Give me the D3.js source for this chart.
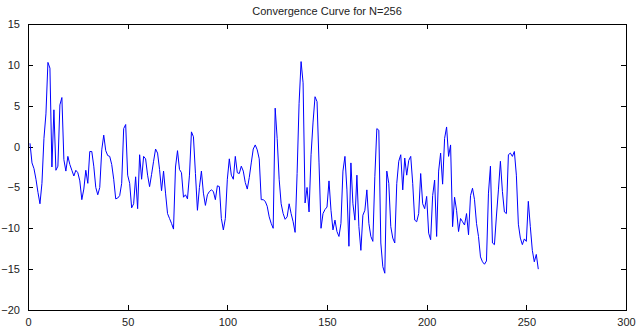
<!DOCTYPE html>
<html lang="en">
<head>
    <meta charset="UTF-8">
    <title>Convergence Curve</title>
    <style>
        body{ margin: 0; background: #fff; }
        svg{ display: block; }
        text{ font-family: "Liberation Sans", Arial, sans-serif; font-size: 11px; fill: #222; }
    </style>
    <script src="https://cdn.jsdelivr.net/npm/d3@7/dist/d3.min.js"></script>
</head>
<body>
<script>
    const width = 642
    const height = 328

    const titleText = "Convergence Curve for N=256"
    const xTicks = [0, 50, 100, 150, 200, 250, 300]
    const yTicks = [-20, -15, -10, -5, 0, 5, 10, 15]

    // one value per iteration, 1..256
    const values = [
        0.4, -2, -2.7, -4, -5.6, -7, -4.5, 1, 4, 10.3,
        9.6, -2.5, 4.5, -2.9, -2.4, 5.1, 6, -1.6, -3, -1.2,
        -2.2, -2.9, -3.6, -2.9, -3.2, -4.2, -6.5, -5.2, -2.9, -4.5,
        -0.6, -0.6, -2.4, -5, -5.9, -5, -0.4, 1.4, -0.5, -1.1,
        -1.2, -2.2, -4, -6.4, -6.3, -6, -4.5, 2.2, 2.7, -3.5,
        -4.5, -7.5, -7, -3.7, -7.6, -1, -4, -1.2, -1.5, -3.5,
        -4.9, -3.4, -1.8, -0.3, -0.8, -2.8, -5.4, -3, -5.7, -8.2,
        -8.8, -9.4, -10.1, -2.5, -0.5, -2.8, -3.2, -6.2, -5.9, -6.4,
        -3.5, 1.8, 1.2, -3.3, -7.8, -5, -3, -5.7, -7.2, -5.9,
        -5.5, -5.3, -5.5, -6.5, -4.8, -4.9, -8.8, -10.2, -8.8, -4,
        -1.5, -3.5, -4, -1.2, -3.2, -3.3, -2.4, -3, -4.4, -5.2,
        -3.8, -2, -0.3, 0.2, -0.4, -1.5, -6.5, -6.5, -6.7, -7.3,
        -8.6, -9.4, -10, 4.7, 1, -4, -7, -8.2, -8.9, -8.6,
        -7, -8.2, -9.2, -10.5, -3.3, 5.3, 10.4, 7.8, -6.9, -5,
        -8, -1, 3, 6.1, 5.5, -2, -10, -8.2, -7.7, -7.4,
        -4.2, -7.8, -10.2, -9, -10.4, -11, -9.4, -3, -1.2, -5.3,
        -12.2, -2, -7, -9, -3.5, -9.8, -12.7, -8.4, -7.8, -5.3,
        -9.4, -11, -11.6, -3.7, 2.2, 2, -11.8, -14.7, -15.5, -3,
        -4.5, -9.8, -11.2, -11.8, -4.5, -1.8, -1, -5.3, -1.4, -3.5,
        -1.7, -1.2, -4.5, -9, -9.2, -8.2, -3.3, -7, -7.6, -6.1,
        -10.6, -11.4, -6, -4.1, -11, -3, -0.8, -4.6, 1, 2.4,
        -1.2, 0.2, -9.8, -6.2, -7.8, -10.4, -8.8, -9.2, -9.6, -8.2,
        -10.8, -6, -5.1, -6.5, -9.4, -11, -13.5, -14.1, -14.4, -14,
        -5.7, -2.4, -11.8, -12, -8.5, -5.3, -1.8, -5.5, -8, -8.2,
        -1, -0.8, -1.2, -0.6, -3.5, -9.5, -11.2, -12, -11.3, -11.6,
        -6.7, -9.8, -12.7, -14.1, -13.2, -15
    ]

    const margin = {top: 24, right: 16, bottom: 18, left: 28}

    let svg = d3.select("body").append("svg")
        .attr("width", width)
        .attr("height", height)

    let x = d3.scaleLinear().domain([0, 300]).range([margin.left, width - margin.right])
    let y = d3.scaleLinear().domain([-20, 15]).range([height - margin.bottom, margin.top])

    // ticks point inward on all four sides, like matlab
    let axisStyle = g => {
        g.select(".domain").remove()
        g.selectAll("line").attr("stroke", "#000").attr("shape-rendering", "crispEdges")
    }

    svg.append("g")
        .attr("transform", `translate(0,${y(-20)})`)
        .call(d3.axisBottom(x).tickValues(xTicks).tickSize(-5).tickPadding(8).tickFormat(d3.format("d")))
        .call(axisStyle)
    svg.append("g")
        .attr("transform", `translate(0,${y(15)})`)
        .call(d3.axisTop(x).tickValues(xTicks).tickSize(-5).tickFormat(""))
        .call(axisStyle)
    svg.append("g")
        .attr("transform", `translate(${x(0)},0)`)
        .call(d3.axisLeft(y).tickValues(yTicks).tickSize(-5).tickPadding(8).tickFormat(d3.format("d")))
        .call(axisStyle)
    svg.append("g")
        .attr("transform", `translate(${x(300)},0)`)
        .call(d3.axisRight(y).tickValues(yTicks).tickSize(-5).tickFormat(""))
        .call(axisStyle)

    svg.selectAll("g text").attr("font-size", 11).attr("font-family", "Liberation Sans, Arial, sans-serif").attr("fill", "#222")

    svg.append("rect")
        .attr("x", x(0)).attr("y", y(15))
        .attr("width", x(300) - x(0)).attr("height", y(-20) - y(15))
        .attr("fill", "none").attr("stroke", "#000")
        .attr("shape-rendering", "crispEdges")

    let line = d3.line()
        .x((d, i) => x(i + 1))
        .y(d => y(d))

    svg.append("path")
        .datum(values)
        .attr("d", line)
        .attr("fill", "none")
        .attr("stroke", "#0000ff")
        .attr("stroke-width", 1)

    svg.append("text")
        .attr("x", (x(0) + x(300)) / 2)
        .attr("y", 15)
        .attr("text-anchor", "middle")
        .text(titleText)
</script>
</body>
</html>
